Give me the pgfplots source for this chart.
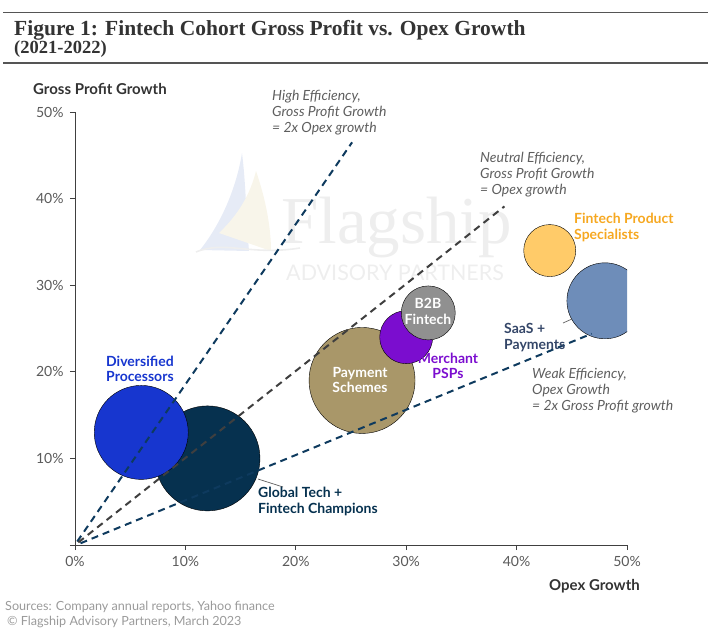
\documentclass[border=0pt]{standalone}
\usepackage{fontspec}
\setmainfont{Lato}
\newfontfamily\titleserif{Liberation Serif}
\usepackage{pgfplots}
\pgfplotsset{compat=1.18}

\definecolor{axisgray}{HTML}{404040}
\definecolor{tickgray}{HTML}{5A5A5A}
\definecolor{rulegray}{HTML}{555555}
\definecolor{titlegray}{HTML}{333333}
\definecolor{notegray}{HTML}{5E5E5E}
\definecolor{srcgray}{HTML}{9A9A9A}
\definecolor{wmgray}{HTML}{EEEEEE}
\definecolor{sailblue}{HTML}{E6EBF6}
\definecolor{sailbeige}{HTML}{F8F5EA}
\definecolor{divblue}{HTML}{1736CF}
\definecolor{globnavy}{HTML}{06314F}
\definecolor{paytan}{HTML}{A99769}
\definecolor{merchpurple}{HTML}{7B0DCF}
\definecolor{btobgray}{HTML}{909090}
\definecolor{fpsbubble}{HTML}{FFCB69}
\definecolor{fpslabel}{HTML}{F6A821}
\definecolor{saasbubble}{HTML}{6E8DB9}
\definecolor{saaslabel}{HTML}{344668}
\definecolor{dashnavy}{HTML}{0E3A5E}
\definecolor{dashgray}{HTML}{3F3F3F}

\newcommand\fs[2]{\fontsize{#1bp}{#2bp}\selectfont}

\begin{document}
\begin{tikzpicture}
\path[use as bounding box] (0,0) rectangle (708bp,-633bp);

% header, watermark and outer texts (1 unit = 1bp, y downwards)
\begin{scope}[x=1bp,y=-1bp]
  \draw[rulegray, line width=1.1bp] (3,12.5) -- (708,12.5);
  \draw[rulegray, line width=1.1bp] (3,63) -- (708,63);
  \node[anchor=base west, inner sep=0, text=titlegray, font=\titleserif\bfseries\fs{21.5}{24}] at (14,35)
    {Figure 1: Fintech Cohort Gross Profit vs. Opex Growth};
  \node[anchor=base west, inner sep=0, text=titlegray, font=\titleserif\bfseries\fs{18.5}{20}] at (14,53.5)
    {(2021-2022)};

  % watermark logo
  \fill[sailblue] (242,153) .. controls (236,190) and (220,225) .. (200,250) -- (249,251)
    .. controls (246,215) and (246,185) .. cycle;
  \fill[sailbeige] (256,171) .. controls (266,200) and (271,228) .. (271,251) -- (219,233)
    .. controls (238,215) and (250,195) .. cycle;
  \draw[wmgray, line width=1.6bp] (196,252) .. controls (225,240) and (250,256) .. (300,248);
  \node[anchor=base west, inner sep=0, text=wmgray, font=\titleserif\fs{67}{70}] at (281,243) {Flagship};
  \node[anchor=base west, inner sep=0, text=wmgray, font=\fs{21.5}{24}] at (286,280) {ADVISORY PARTNERS};

  \node[anchor=base west, inner sep=0, text=titlegray, font=\bfseries\fs{15}{16}] at (33,94)
    {Gross Profit Growth};
  \node[anchor=base east, inner sep=0, text=titlegray, font=\bfseries\fs{15}{16}] at (640,590.5)
    {Opex Growth};
  \node[anchor=base west, inner sep=0, text=srcgray, font=\fs{12.6}{14}] at (5,610)
    {Sources: Company annual reports, Yahoo finance};
  \node[anchor=base west, inner sep=0, text=srcgray, font=\fs{12.6}{14}] at (7,625)
    {\textcopyright{} Flagship Advisory Partners, March 2023};
\end{scope}

\begin{axis}[
  at={(75bp,-545bp)}, anchor=south west,
  scale only axis, width=552bp, height=433bp,
  xmin=0, xmax=50, ymin=0, ymax=50,
  axis x line*=bottom, axis y line*=left,
  axis line style={axisgray, line width=0.9bp},
  xtick={0,10,20,30,40,50},
  xticklabels={0\%,10\%,20\%,30\%,40\%,50\%},
  ytick={0,10,20,30,40,50},
  yticklabels={{},10\%,20\%,30\%,40\%,50\%},
  tick align=outside, major tick length=5bp,
  tick style={axisgray, line width=0.9bp},
  ticklabel style={text=tickgray, font=\fs{14}{16}},
  xticklabel style={yshift=-3bp},
  yticklabel style={xshift=-3bp},
  /pgf/number format/assume math mode=true,
  clip marker paths=true,
]
% bubbles: (opex growth, gross profit growth), radius in bp
\addplot[only marks, mark=*, mark size=52.5bp, mark options={draw=none, fill=globnavy}] coordinates {(12,10)};
\addplot[only marks, mark=*, mark size=47bp, mark options={draw=none, fill=divblue}] coordinates {(6,13)};
\addplot[only marks, mark=*, mark size=53bp, mark options={draw=none, fill=paytan}] coordinates {(26,19)};
\addplot[only marks, mark=*, mark size=26.5bp, mark options={draw=none, fill=merchpurple}] coordinates {(30,24)};
\addplot[only marks, mark=*, mark size=27bp, mark options={draw=none, fill=btobgray}] coordinates {(32,26.8)};
\addplot[only marks, mark=*, mark size=26bp, mark options={draw=none, fill=fpsbubble}] coordinates {(43,34)};
\addplot[only marks, mark=*, mark size=38bp, mark options={draw=none, fill=saasbubble}] coordinates {(48,28.2)};

% efficiency reference lines
\addplot[dashnavy, line width=2bp, dash pattern=on 7bp off 5bp] coordinates {(0.2,0.4) (25.1,46.5)};
\addplot[dashgray, line width=2bp, dash pattern=on 7bp off 5bp] coordinates {(0.3,0.3) (38.9,39.1)};
\addplot[dashnavy, line width=2bp, dash pattern=on 7bp off 5bp] coordinates {(0.5,0.2) (46.8,24.4)};
\end{axis}

% annotations and bubble labels
\begin{scope}[x=1bp,y=-1bp]
  \draw[notegray, line width=0.7bp] (258,479) -- (283,487);
  \draw[notegray, line width=0.7bp] (563,323) -- (572,319);

  \begin{scope}[every node/.style={anchor=base west, inner sep=0, text=notegray, font=\itshape\fs{14}{16}}]
    \node at (272,100.5) {High Efficiency,};
    \node at (272,116.5) {Gross Profit Growth};
    \node at (272,132.5) {= 2x Opex growth};
    \node at (480,162.5) {Neutral Efficiency,};
    \node at (480,178.5) {Gross Profit Growth};
    \node at (480,194.5) {= Opex growth};
    \node at (532,378.5) {Weak Efficiency,};
    \node at (532,394.5) {Opex Growth};
    \node at (532,410.5) {= 2x Gross Profit growth};
  \end{scope}

  \begin{scope}[every node/.style={inner sep=0, font=\bfseries\fs{14}{16}}]
    \node[anchor=base west, text=divblue] at (106,366) {Diversified};
    \node[anchor=base west, text=divblue] at (106,381.5) {Processors};
    \node[anchor=base west, text=globnavy] at (258,497.5) {Global Tech +};
    \node[anchor=base west, text=globnavy] at (258,513.5) {Fintech Champions};
    \node[anchor=base, text=white] at (360,377) {Payment};
    \node[anchor=base, text=white] at (360,392.5) {Schemes};
    \node[anchor=base, text=merchpurple] at (448,363) {Merchant};
    \node[anchor=base, text=merchpurple] at (448,378) {PSPs};
    \node[anchor=base, text=white] at (428,308.5) {B2B};
    \node[anchor=base, text=white, fill=btobgray, inner sep=1bp] at (428,324) {Fintech};
    \node[anchor=base west, text=fpslabel] at (574,223) {Fintech Product};
    \node[anchor=base west, text=fpslabel] at (574,239) {Specialists};
    \node[anchor=base west, text=saaslabel] at (504,333) {SaaS +};
    \node[anchor=base west, text=saaslabel] at (504,349) {Payments};
  \end{scope}
\end{scope}
\end{tikzpicture}
\end{document}
